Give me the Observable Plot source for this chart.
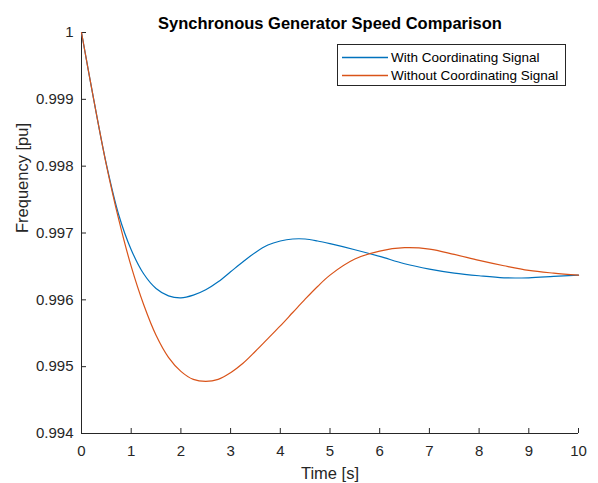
<!DOCTYPE html>
<html><head><meta charset="utf-8">
<script src="https://cdn.jsdelivr.net/npm/d3@7"></script>
<script src="https://cdn.jsdelivr.net/npm/@observablehq/plot@0.6"></script>
<style>
body{margin:0;background:#fff;font-family:"Liberation Sans",Arial,sans-serif;}
#chart{position:relative;width:598px;height:483px;}
</style>
</head><body><div id="chart"></div>
<script>
const titleText = "Synchronous Generator Speed Comparison";
const xLabel = "Time [s]";
const yLabel = "Frequency [pu]";
const seriesNames = ["With Coordinating Signal", "Without Coordinating Signal"];
const seriesColors = ["#0072BD", "#D95319"];

const xTicks = [0,1,2,3,4,5,6,7,8,9,10];
const yTicks = [0.994,0.995,0.996,0.997,0.998,0.999,1];
const yTickLabels = ["0.994","0.995","0.996","0.997","0.998","0.999","1"];

const time = [0,0.25,0.5,0.75,1.0,1.25,1.5,1.75,2.0,2.25,2.5,2.75,3.0,3.25,3.5,3.75,4.0,4.25,4.5,4.75,5.0,5.5,6.0,6.5,7.0,7.5,8.0,8.5,9.0,9.5,10];
const withSignal = [1.0,0.99898,0.99803,0.99727,0.99675,0.99639,0.99617,0.99606,0.99603,0.99607,0.99615,0.99627,0.99642,0.99657,0.99671,0.99682,0.99688,0.99691,0.99691,0.99688,0.99684,0.99675,0.99665,0.99654,0.99646,0.99640,0.99636,0.99633,0.99633,0.99635,0.99637];
const withoutSignal = [1.0,0.99898,0.99802,0.99720,0.99650,0.99593,0.99547,0.99514,0.99493,0.99481,0.99478,0.99481,0.99491,0.99505,0.99523,0.99542,0.99561,0.99581,0.99601,0.99620,0.99637,0.99661,0.99673,0.99678,0.99676,0.99668,0.99659,0.99651,0.99644,0.99640,0.99637];

const dWith = time.map((t,i)=>({t, v:withSignal[i]}));
const dWithout = time.map((t,i)=>({t, v:withoutSignal[i]}));

const axisColor = "#262626";
const plot = Plot.plot({
  width: 598, height: 483,
  marginLeft: 81, marginRight: 20, marginTop: 32, marginBottom: 50,
  style: {fontFamily: '"Liberation Sans", Arial, sans-serif', color: axisColor, background: "#fff", overflow: "visible"},
  x: {domain: [0,10]},
  y: {domain: [0.994, 1]},
  marks: [
    Plot.ruleY([0.994], {stroke: axisColor, strokeWidth: 1}),
    Plot.ruleX([0], {stroke: axisColor, strokeWidth: 1}),
    Plot.axisX({ticks: xTicks, tickSize: -5, tickPadding: 17, fontSize: 15, label: null, stroke: axisColor}),
    Plot.axisY({ticks: yTicks, tickSize: -5, tickPadding: 13, fontSize: 15, label: null, stroke: axisColor,
      tickFormat: d => yTickLabels[yTicks.indexOf(d)]}),
    Plot.line(dWith, {x: "t", y: "v", stroke: seriesColors[0], strokeWidth: 1.2, curve: "catmull-rom"}),
    Plot.line(dWithout, {x: "t", y: "v", stroke: seriesColors[1], strokeWidth: 1.2, curve: "catmull-rom"}),
    Plot.text([xLabel], {frameAnchor: "bottom", dy: 45, fontSize: 16.5, fill: axisColor}),
    Plot.text([yLabel], {frameAnchor: "left", dx: -59, rotate: -90, fontSize: 16.5, fill: axisColor}),
    Plot.text([titleText], {frameAnchor: "top", dy: -15, fontSize: 16.5, fontWeight: "bold", fill: "#000"})
  ]
});
document.getElementById("chart").appendChild(plot);

// legend
const svg = d3.select(plot);
const lg = svg.append("g").attr("font-family", '"Liberation Sans", Arial, sans-serif').attr("text-anchor", "start");
lg.append("rect").attr("x", 337.5).attr("y", 44.5).attr("width", 228).attr("height", 41)
  .attr("fill", "#fff").attr("stroke", axisColor).attr("stroke-width", 1);
seriesNames.forEach((name, i) => {
  const y = 57.5 + i * 18;
  lg.append("line").attr("x1", 342).attr("x2", 388).attr("y1", y).attr("y2", y)
    .attr("stroke", seriesColors[i]).attr("stroke-width", 1.3);
  lg.append("text").attr("x", 391).attr("y", y + 4.6).attr("font-size", 13.5)
    .attr("text-anchor", "start").attr("fill", "#000").text(name);
});
</script></body></html>
